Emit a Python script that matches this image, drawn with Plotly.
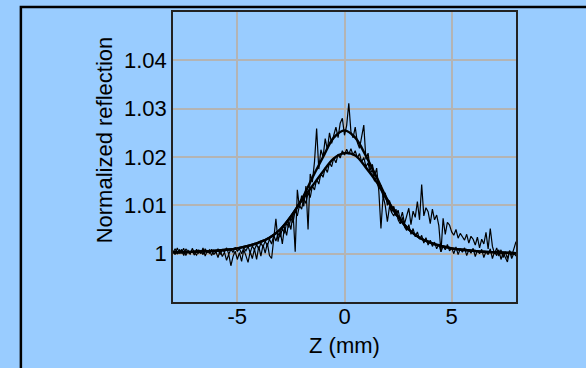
import plotly.graph_objects as go

Z = [-8.0, -7.9, -7.8, -7.7, -7.6, -7.5, -7.4, -7.3, -7.2, -7.1,
     -7.0, -6.9, -6.8, -6.7, -6.6, -6.5, -6.4, -6.3, -6.2, -6.1,
     -6.0, -5.9, -5.8, -5.7, -5.6, -5.5, -5.4, -5.3, -5.2, -5.1,
     -5.0, -4.9, -4.8, -4.7, -4.6, -4.5, -4.4, -4.3, -4.2, -4.1,
     -4.0, -3.9, -3.8, -3.7, -3.6, -3.5, -3.4, -3.3, -3.2, -3.1,
     -3.0, -2.9, -2.8, -2.7, -2.6, -2.5, -2.4, -2.3, -2.2, -2.1,
     -2.0, -1.9, -1.8, -1.7, -1.6, -1.5, -1.4, -1.3, -1.2, -1.1,
     -1.0, -0.9, -0.8, -0.7, -0.6, -0.5, -0.4, -0.3, -0.2, -0.1,
     0.0, 0.1, 0.2, 0.3, 0.4, 0.5, 0.6, 0.7, 0.8, 0.9,
     1.0, 1.1, 1.2, 1.3, 1.4, 1.5, 1.6, 1.7, 1.8, 1.9,
     2.0, 2.1, 2.2, 2.3, 2.4, 2.5, 2.6, 2.7, 2.8, 2.9,
     3.0, 3.1, 3.2, 3.3, 3.4, 3.5, 3.6, 3.7, 3.8, 3.9,
     4.0, 4.1, 4.2, 4.3, 4.4, 4.5, 4.6, 4.7, 4.8, 4.9,
     5.0, 5.1, 5.2, 5.3, 5.4, 5.5, 5.6, 5.7, 5.8, 5.9,
     6.0, 6.1, 6.2, 6.3, 6.4, 6.5, 6.6, 6.7, 6.8, 6.9,
     7.0, 7.1, 7.2, 7.3, 7.4, 7.5, 7.6, 7.7, 7.8, 7.9,
     8.0]

# measured data, scan 1 (higher peak)
meas_1 = [1.0006, 0.9998, 1.0012, 1.0001, 1.0009, 0.9996, 1.0010, 1.0003, 0.9999, 1.0011,
          1.0002, 0.9997, 1.0008, 1.0000, 1.0012, 0.9995, 1.0006, 1.0001, 1.0009, 0.9998,
          1.0004, 0.9992, 1.0007, 0.9994, 1.0003, 0.9986, 0.9999, 0.9975, 0.9994, 1.0005,
          0.9988, 1.0002, 0.9984, 1.0008, 0.9996, 0.9982, 1.0004, 0.9990, 1.0010, 0.9988,
          1.0015, 0.9995, 1.0018, 1.0001, 1.0022, 0.9996, 0.9990, 1.0030, 1.0072, 1.0025,
          1.0048, 1.0020, 1.0055, 1.0038, 1.0066, 1.0050, 1.0085, 1.0004, 1.0132, 1.0095,
          1.0120, 1.0098, 1.0140, 1.0050, 1.0165, 1.0148, 1.0190, 1.0259, 1.0175, 1.0215,
          1.0200, 1.0238, 1.0215, 1.0250, 1.0228, 1.0245, 1.0262, 1.0240, 1.0270, 1.0280,
          1.0245, 1.0265, 1.0311, 1.0252, 1.0240, 1.0262, 1.0230, 1.0218, 1.0240, 1.0266,
          1.0195, 1.0208, 1.0172, 1.0185, 1.0160, 1.0177, 1.0130, 1.0052, 1.0120, 1.0100,
          1.0066, 1.0098, 1.0085, 1.0078, 1.0092, 1.0070, 1.0062, 1.0075, 1.0055, 1.0048,
          1.0060, 1.0040, 1.0052, 1.0035, 1.0045, 1.0030, 1.0038, 1.0022, 1.0033, 1.0018,
          1.0028, 1.0015, 1.0024, 1.0010, 1.0020, 1.0004, 1.0016, 1.0008, 1.0019, 1.0006,
          1.0012, 1.0000, 1.0014, 0.9998, 1.0010, 1.0003, 1.0012, 0.9996, 1.0008, 1.0001,
          1.0011, 0.9994, 1.0007, 1.0000, 1.0009, 0.9992, 1.0005, 0.9998, 1.0010, 0.9990,
          1.0004, 0.9996, 1.0008, 0.9988, 1.0002, 0.9992, 0.9983, 1.0006, 0.9990, 1.0001,
          0.9995]

# measured data, scan 2 (lower peak)
meas_2 = [1.0002, 1.0010, 0.9999, 1.0008, 1.0003, 1.0011, 0.9996, 1.0007, 1.0002, 1.0005,
          0.9997, 1.0009, 1.0001, 1.0006, 0.9998, 1.0010, 1.0003, 1.0008, 0.9996, 1.0007,
          1.0002, 1.0010, 0.9998, 1.0008, 1.0004, 1.0012, 0.9999, 1.0009, 1.0003, 1.0013,
          1.0005, 1.0010, 1.0000, 1.0012, 1.0006, 1.0015, 1.0002, 1.0016, 1.0008, 1.0019,
          1.0009, 1.0022, 1.0014, 1.0026, 1.0016, 1.0030, 1.0020, 1.0038, 1.0026, 1.0042,
          1.0034, 1.0052, 1.0042, 1.0064, 1.0054, 1.0074, 1.0064, 1.0090, 1.0078, 1.0100,
          1.0092, 1.0114, 1.0104, 1.0126, 1.0116, 1.0140, 1.0132, 1.0154, 1.0144, 1.0166,
          1.0158, 1.0178, 1.0168, 1.0188, 1.0180, 1.0198, 1.0188, 1.0206, 1.0198, 1.0213,
          1.0204, 1.0216, 1.0206, 1.0217, 1.0204, 1.0213, 1.0198, 1.0207, 1.0190, 1.0199,
          1.0180, 1.0188, 1.0166, 1.0174, 1.0150, 1.0160, 1.0134, 1.0142, 1.0116, 1.0126,
          1.0100, 1.0110, 1.0086, 1.0098, 1.0078, 1.0090, 1.0070, 1.0086, 1.0062, 1.0080,
          1.0094, 1.0060, 1.0088, 1.0075, 1.0108, 1.0070, 1.0143, 1.0078, 1.0095, 1.0087,
          1.0062, 1.0092, 1.0070, 1.0080, 1.0058, 1.0004, 1.0073, 1.0040, 1.0065, 1.0059,
          1.0045, 1.0038, 1.0050, 1.0032, 1.0042, 1.0035, 1.0028, 1.0040, 1.0022, 1.0036,
          1.0030, 1.0018, 1.0034, 1.0012, 1.0030, 1.0020, 1.0044, 1.0010, 1.0052, 1.0015,
          1.0000, 1.0012, 0.9995, 1.0008, 0.9992, 1.0004, 0.9990, 1.0006, 0.9996, 1.0010,
          1.0025]

Z_FIT = [-8.0, -7.5, -7.0, -6.5, -6.0, -5.5, -5.0, -4.5, -4.0, -3.5, -3.0,
         -2.5, -2.0, -1.5, -1.0, -0.5, 0.0, 0.5, 1.0, 1.5, 2.0, 2.5,
         3.0, 3.5, 4.0, 4.5, 5.0, 5.5, 6.0, 6.5, 7.0, 7.5, 8.0]

fit_1 = [1.0003, 1.0003, 1.0004, 1.0005, 1.0006, 1.0008, 1.0011, 1.0016, 1.0023, 1.0033, 1.0050,
         1.0077, 1.0112, 1.0157, 1.0200, 1.0240, 1.0255, 1.0240, 1.0202, 1.0158, 1.0112, 1.0077,
         1.0050, 1.0033, 1.0023, 1.0016, 1.0011, 1.0008, 1.0006, 1.0004, 1.0003, 1.0002, 1.0001]

fit_2 = [1.0003, 1.0003, 1.0004, 1.0005, 1.0006, 1.0008, 1.0011, 1.0016, 1.0023, 1.0033, 1.0050,
         1.0077, 1.0110, 1.0140, 1.0170, 1.0197, 1.0208, 1.0203, 1.0178, 1.0148, 1.0110, 1.0076,
         1.0050, 1.0033, 1.0023, 1.0016, 1.0011, 1.0008, 1.0006, 1.0004, 1.0003, 1.0002, 1.0001]

X_TICKS = [-5, 0, 5]
X_TICK_LABELS = ["-5", "0", "5"]
Y_TICKS = [1.0, 1.01, 1.02, 1.03, 1.04]
Y_TICK_LABELS = ["1", "1.01", "1.02", "1.03", "1.04"]

BG = "#99CCFF"
FONT = "Liberation Sans, Arial, sans-serif"
FS = 22

fig = go.Figure()
for ys in (meas_1, meas_2):
    fig.add_trace(go.Scatter(x=Z, y=ys, mode="lines",
                             line=dict(color="black", width=1.2), showlegend=False))
for ys in (fit_1, fit_2):
    fig.add_trace(go.Scatter(x=Z_FIT, y=ys, mode="lines", line_shape="spline",
                             line=dict(color="black", width=2.4), showlegend=False))

fig.update_layout(
    width=586, height=368,
    margin=dict(l=173, r=70, t=10, b=66),
    paper_bgcolor=BG, plot_bgcolor=BG,
    font=dict(family=FONT, size=FS, color="black"),
    showlegend=False,
    xaxis=dict(range=[-8, 8], tickvals=X_TICKS, ticktext=X_TICK_LABELS, showgrid=True,
               gridcolor="#b4b4b4", gridwidth=1.5, zeroline=False, showline=True,
               linecolor="#222222", linewidth=1.5, mirror=True, ticks="",
               ticklabelstandoff=-6, tickfont=dict(size=FS)),
    yaxis=dict(range=[0.99, 1.05], tickvals=Y_TICKS, ticktext=Y_TICK_LABELS,
               showgrid=True, gridcolor="#b4b4b4", gridwidth=1.5, zeroline=False,
               showline=True, linecolor="#222222", linewidth=1.5, mirror=True,
               ticks="", tickfont=dict(size=FS)),
    annotations=[
        dict(text="Z (mm)", xref="paper", yref="paper", x=0.5, y=-0.151,
             xanchor="center", yanchor="middle", showarrow=False,
             font=dict(size=FS)),
        dict(text="Normalized reflection", xref="paper", yref="paper",
             x=-0.199, y=0.56, xanchor="center", yanchor="middle",
             textangle=-90, showarrow=False, font=dict(size=FS)),
    ],
    shapes=[
        dict(type="rect", xref="paper", yref="paper", x0=-0.4435, y0=-1.0,
             x1=2.0, y1=1.0172, line=dict(color="black", width=2.5),
             fillcolor="rgba(0,0,0,0)", layer="below"),
    ],
)

fig.write_html("out.html")
